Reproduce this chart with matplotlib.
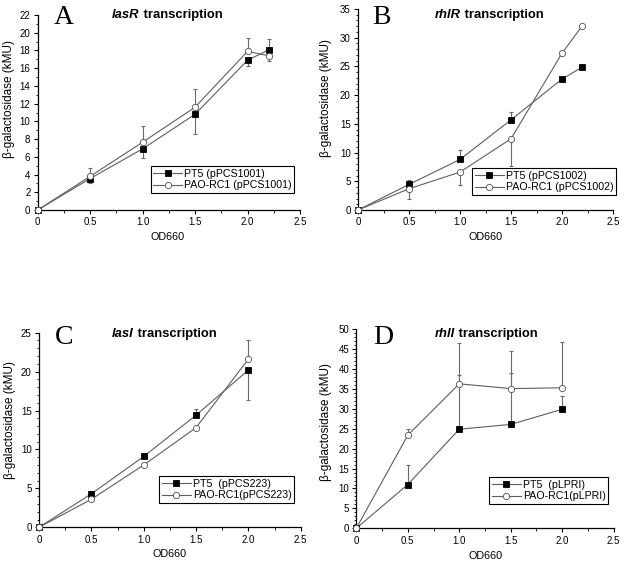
import numpy as np
import matplotlib
matplotlib.use("Agg")
import matplotlib.pyplot as plt
from matplotlib.ticker import MultipleLocator

plt.rcParams['font.family'] = ['Liberation Sans', 'DejaVu Sans']

# ---------------- data ----------------
# Panel A: lasR
xA = [0, 0.5, 1.0, 1.5, 2.0, 2.2]
A_pt5 = [0, 3.55, 6.9, 10.8, 16.9, 18.05]
A_pt5_lo = [0, 0.56, 1.0, 2.2, 0.6, 0]
A_pt5_hi = [0, 0, 0, 0, 0, 1.2]
A_pao = [0, 3.8, 7.65, 11.6, 17.9, 17.4]
A_pao_lo = [0, 0, 0, 0, 0, 0.6]
A_pao_hi = [0, 0.9, 1.8, 2.1, 1.5, 0]

# Panel B: rhlR
xB = [0, 0.5, 1.0, 1.5, 2.0, 2.2]
B_pt5 = [0, 4.45, 8.8, 15.7, 22.8, 24.9]
B_pt5_lo = [0, 0, 0, 0, 0, 0]
B_pt5_hi = [0, 0.8, 1.6, 1.3, 0, 0]
B_pao = [0, 3.7, 6.6, 12.4, 27.3, 32.1]
B_pao_lo = [0, 1.8, 2.2, 4.7, 0, 0]
B_pao_hi = [0, 0, 0, 0, 0, 0]

# Panel C: lasI
xC = [0, 0.5, 1.0, 1.5, 2.0]
C_pt5 = [0, 4.3, 9.1, 14.4, 20.2]
C_pt5_lo = [0, 0, 0, 0, 3.85]
C_pt5_hi = [0, 0.4, 0.5, 0.8, 0]
C_pao = [0, 3.6, 8.0, 12.8, 21.6]
C_pao_lo = [0, 0, 0, 0, 0]
C_pao_hi = [0, 0, 0, 0, 2.5]

# Panel D: rhlI
xD = [0, 0.5, 1.0, 1.5, 2.0]
D_pt5 = [0, 11.0, 24.9, 26.1, 29.9]
D_pt5_lo = [0, 0, 0, 0, 0]
D_pt5_hi = [0, 4.9, 13.5, 13.0, 3.3]
D_pao = [0, 23.4, 36.3, 35.1, 35.3]
D_pao_lo = [0, 0, 0, 0, 0]
D_pao_hi = [0, 1.6, 10.3, 9.5, 11.6]

panels = [
    dict(letter='A', gene='lasR', x=xA, pt5=A_pt5, pt5_lo=A_pt5_lo, pt5_hi=A_pt5_hi,
         pao=A_pao, pao_lo=A_pao_lo, pao_hi=A_pao_hi, ymax=22, ymaj=2, ymin=1,
         lab1='PT5 (pPCS1001)', lab2='PAO-RC1 (pPCS1001)',
         ax_px=(37.7, 15, 300, 210), letter_px=(64, 18), title_px=(112, 15),
         ylab_px=(9.5, 99.5), xlab_px=(168, 237), leg_px=(150.5, 166)),
    dict(letter='B', gene='rhlR', x=xB, pt5=B_pt5, pt5_lo=B_pt5_lo, pt5_hi=B_pt5_hi,
         pao=B_pao, pao_lo=B_pao_lo, pao_hi=B_pao_hi, ymax=35, ymaj=5, ymin=1,
         lab1='PT5 (pPCS1002)', lab2='PAO-RC1 (pPCS1002)',
         ax_px=(358, 9, 613, 210), letter_px=(381, 18), title_px=(435, 15),
         ylab_px=(326, 98), xlab_px=(486, 237), leg_px=(472, 168)),
    dict(letter='C', gene='lasI', x=xC, pt5=C_pt5, pt5_lo=C_pt5_lo, pt5_hi=C_pt5_hi,
         pao=C_pao, pao_lo=C_pao_lo, pao_hi=C_pao_hi, ymax=25, ymaj=5, ymin=1,
         lab1='PT5  (pPCS223)', lab2='PAO-RC1(pPCS223)',
         ax_px=(39, 332.7, 300.7, 527.3), letter_px=(64, 337), title_px=(112, 334),
         ylab_px=(10, 420), xlab_px=(170, 554), leg_px=(159, 476)),
    dict(letter='D', gene='rhlI', x=xD, pt5=D_pt5, pt5_lo=D_pt5_lo, pt5_hi=D_pt5_hi,
         pao=D_pao, pao_lo=D_pao_lo, pao_hi=D_pao_hi, ymax=50, ymaj=5, ymin=1,
         lab1='PT5  (pLPRI)', lab2='PAO-RC1(pLPRI)',
         ax_px=(356.3, 329.3, 613.7, 528.3), letter_px=(383, 337), title_px=(435, 334),
         ylab_px=(326, 422), xlab_px=(486, 556), leg_px=(489, 477)),
]

W, H = 626, 567
fig = plt.figure(figsize=(W / 100, H / 100), dpi=100)

def fx(px):
    return px / W

def fy(py):
    return 1 - py / H

line_col = '#5e5e5e'
err_col = '#6a6a6a'

for p in panels:
    l, t, r, b = p['ax_px']
    ax = fig.add_axes([fx(l), fy(b), (r - l) / W, (b - t) / H])
    x = np.array(p['x'])

    for key, marker, mfc, zo in (('pt5', 's', 'black', 3), ('pao', 'o', 'white', 4)):
        y = np.array(p[key])
        lo = np.array(p[key + '_lo'])
        hi = np.array(p[key + '_hi'])
        m = (lo > 0) | (hi > 0)
        if m.any():
            ax.errorbar(x[m], y[m], yerr=[lo[m], hi[m]], fmt='none', ecolor=err_col,
                        elinewidth=0.8, capsize=1.6, capthick=0.8, zorder=2, clip_on=False)
        ax.plot(x, y, color=line_col, lw=0.8, marker=marker, ms=4.5,
                mfc=mfc, mec='black' if key == 'pt5' else '#505050', mew=0.6,
                zorder=zo, clip_on=False,
                label=p['lab1'] if key == 'pt5' else p['lab2'])

    ax.set_xlim(0, 2.5)
    ax.set_ylim(0, p['ymax'])
    ax.xaxis.set_minor_locator(MultipleLocator(0.25))
    ax.yaxis.set_major_locator(MultipleLocator(p['ymaj']))
    ax.yaxis.set_minor_locator(MultipleLocator(p['ymin']))
    ax.set_xticks([0, 0.5, 1.0, 1.5, 2.0, 2.5])
    ax.set_xticklabels(['0', '0.5', '1.0', '1.5', '2.0', '2.5'])
    for s in ('top', 'right'):
        ax.spines[s].set_visible(False)
    for s in ('left', 'bottom'):
        ax.spines[s].set_linewidth(0.9)
    ax.tick_params(which='major', direction='out', length=3.2, width=0.8, labelsize=7, pad=2)
    ax.tick_params(which='minor', direction='out', length=1.8, width=0.6)
    ax.patch.set_alpha(0)

    leg = ax.legend(loc='upper left', bbox_to_anchor=(fx(p['leg_px'][0]), fy(p['leg_px'][1])),
                    bbox_transform=fig.transFigure, fontsize=7.7, frameon=True, fancybox=False,
                    edgecolor='black', framealpha=1, borderpad=0.25, labelspacing=0.15,
                    handlelength=2.7, handletextpad=0.2, borderaxespad=0)
    leg.get_frame().set_linewidth(0.8)

    # panel letter
    fig.text(fx(p['letter_px'][0]), fy(p['letter_px'][1]), p['letter'], ha='center', va='center',
             family=['Liberation Serif', 'DejaVu Serif'], fontsize=20)
    # title: italic gene name followed by bold text
    t1 = fig.text(fx(p['title_px'][0]), fy(p['title_px'][1]), p['gene'], ha='left', va='center',
                  fontsize=9.4, fontweight='bold', style='italic')
    ax.annotate(' transcription', xy=(1, 0), xycoords=t1, ha='left', va='bottom',
                fontsize=9.4, fontweight='bold', annotation_clip=False)
    # axis labels
    fig.text(fx(p['ylab_px'][0]), fy(p['ylab_px'][1]), 'β-galactosidase (kMU)', rotation=90,
             ha='center', va='center', fontsize=8.5)
    fig.text(fx(p['xlab_px'][0]), fy(p['xlab_px'][1]), 'OD660', ha='center', va='center', fontsize=7.8)

fig.savefig('out.png', dpi=100)
